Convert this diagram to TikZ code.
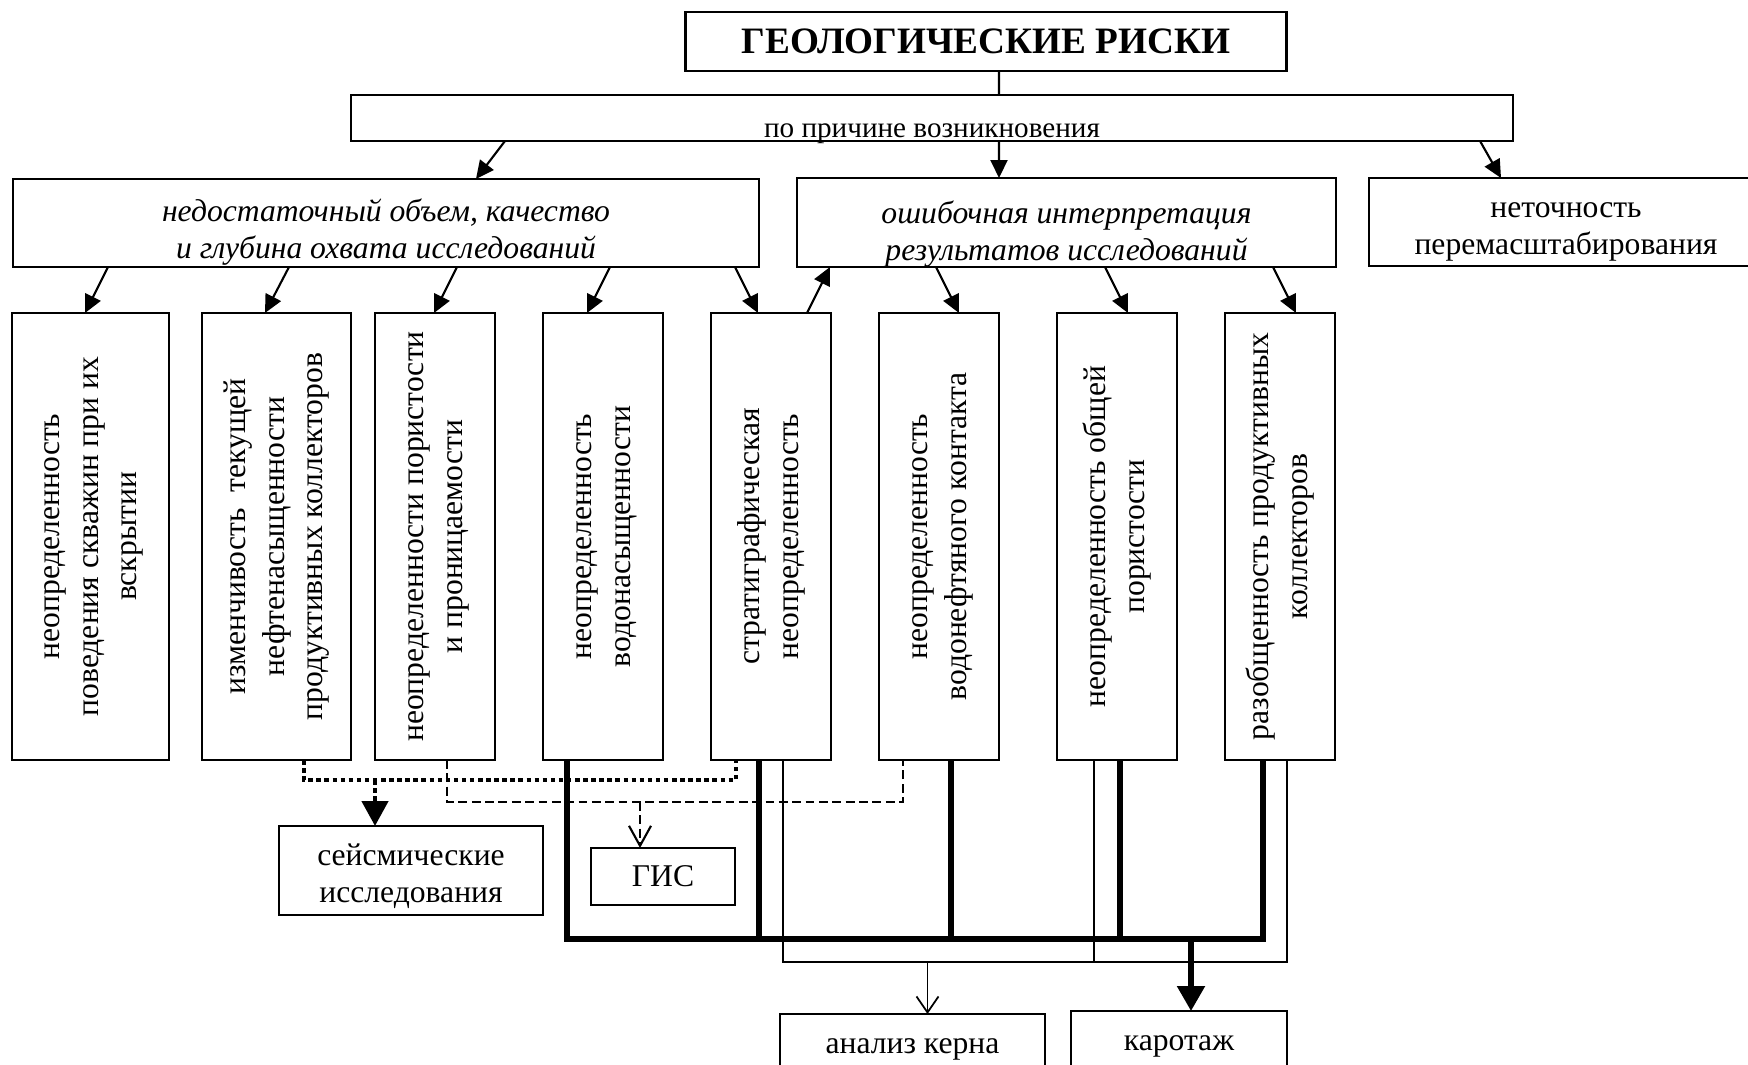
\documentclass[tikz,border=0pt]{standalone}
\usepackage{fontspec}
\setmainfont{Liberation Serif}
\usepackage{graphicx}
\usepackage{tikz}
\usetikzlibrary{arrows.meta, positioning}

\newcommand{\vtxt}[1]{\rotatebox{90}{\begin{tabular}{@{}c@{}}#1\end{tabular}}}

\begin{document}
\begin{tikzpicture}[
    x=0.1mm, y=-0.1mm,
    box/.style={draw, rectangle, line width=0.75pt, inner sep=0pt, outer sep=0pt,
                font=\fontsize{9}{11}\selectfont, align=center},
    tallbox/.style={box, minimum width=12mm, minimum height=44.7mm},
    txt/.style={inner sep=0pt, align=center, font=\fontsize{9}{10.5}\selectfont},
    itxt/.style={txt, font=\fontsize{9}{10.5}\selectfont\itshape},
    arw/.style={-{Triangle[length=1.8mm, width=1.7mm]}, line width=0.6pt},
    dotln/.style={line width=1.3pt, dash pattern=on 1.3pt off 1pt},
    dashln/.style={line width=0.6pt, dash pattern=on 2.5pt off 1.3pt},
    boldln/.style={line width=1.5pt},
    thinln/.style={line width=0.5pt}
  ]
  \useasboundingbox (0,0) rectangle (1748,1064);

  % Верхние блоки
  \node[box, minimum width=60.1mm, minimum height=5.9mm,
        font=\fontsize{10.6}{12}\selectfont\bfseries] (title) at (986,41.5) {ГЕОЛОГИЧЕСКИЕ РИСКИ};
  \node[box, minimum width=116.2mm, minimum height=4.6mm] (cause) at (932,118) {};
  \node[txt, font=\fontsize{8.3}{10}\selectfont, above=0.4mm of cause.south, anchor=base]
       (causetxt) {по причине возникновения};

  \node[box, minimum width=74.6mm, minimum height=8.8mm] (lack) at (386,223) {};
  \node[itxt, below=1.9mm of lack.north] (lacktxt) {недостаточный объем, качество\\и глубина охвата исследований};
  \node[box, minimum width=53.9mm, minimum height=8.9mm] (misint) at (1066.5,222.5) {};
  \node[itxt, below=2.2mm of misint.north] (misinttxt) {ошибочная интерпретация\\результатов исследований};
  \node[box, minimum width=39.4mm, minimum height=8.8mm] (scale) at (1566,222) {};
  \node[txt, below=2.4mm of scale.north] (scaletxt) {неточность\\перемасштабирования};

  % Блоки неопределенностей
  \node[tallbox, minimum width=15.7mm] (b1) at (90.5,536.5)
       {\vtxt{неопределенность\\поведения скважин при их\\вскрытии}};
  \node[tallbox, minimum width=14.9mm, right=3.3mm of b1] (b2)
       {\vtxt{изменчивость\ \ текущей\\нефтенасыщенности\\продуктивных коллекторов}};
  \node[tallbox, right=2.4mm of b2] (b3) {\vtxt{неопределенности пористости\\и проницаемости}};
  \node[tallbox, right=4.8mm of b3] (b4) {\vtxt{неопределенность\\водонасыщенности}};
  \node[tallbox, right=4.8mm of b4] (b5) {\vtxt{стратиграфическая\\неопределенность}};
  \node[tallbox, right=4.8mm of b5] (b6) {\vtxt{неопределенность\\водонефтяного контакта}};
  \node[tallbox, right=5.8mm of b6] (b7) {\vtxt{неопределенность общей\\пористости}};
  \node[tallbox, minimum width=11mm, right=4.8mm of b7] (b8) {\vtxt{разобщенность продуктивных\\коллекторов}};

  % Методы исследований
  \node[box, minimum width=26.4mm, minimum height=8.9mm] (seis) at (411,870.5) {};
  \node[txt, below=1.75mm of seis.north] (seistxt) {сейсмические\\исследования};
  \node[box, minimum width=14.4mm, minimum height=5.7mm] (gis) at (663,876.5) {ГИС};
  \node[box, minimum width=26.5mm, minimum height=8.6mm] (core) at (912.5,1057) {};
  \node[txt, below=3.9mm of core.north, anchor=base] (coretxt) {анализ керна};
  \node[box, minimum width=21.6mm, minimum height=8.9mm] (karot) at (1179,1055.5) {};
  \node[txt, below=3.9mm of karot.north, anchor=base] (karottxt) {каротаж};

  % Связи верхнего уровня
  \draw[line width=0.6pt] ([xshift=1.3mm]title.south) -- ([xshift=6.7mm]cause.north);
  \draw[arw] ([xshift=-42.7mm]cause.south) -- ([xshift=9mm]lack.north);
  \draw[arw] ([xshift=6.7mm]cause.south) -- ([xshift=-6.75mm]misint.north);
  \draw[arw] ([xshift=54.8mm]cause.south) -- ([xshift=-6.5mm]scale.north);

  \draw[arw] ([xshift=-27.8mm]lack.south) -- ([xshift=-0.55mm]b1.north);
  \draw[arw] ([xshift=-9.7mm]lack.south) -- ([xshift=-1.15mm]b2.north);
  \draw[arw] ([xshift=7.1mm]lack.south) -- ([xshift=-0.1mm]b3.north);
  \draw[arw] ([xshift=22.4mm]lack.south) -- ([xshift=-1.6mm]b4.north);
  \draw[arw] ([xshift=34.9mm]lack.south) -- ([xshift=-1.3mm]b5.north);
  \draw[arw] ([xshift=3.6mm]b5.north) -- ([xshift=-23.65mm]misint.south);
  \draw[arw] ([xshift=-13.05mm]misint.south) -- ([xshift=2mm]b6.north);
  \draw[arw] ([xshift=3.85mm]misint.south) -- ([xshift=1.1mm]b7.north);
  \draw[arw] ([xshift=20.65mm]misint.south) -- ([xshift=1.6mm]b8.north);

  % Сейсмика и ГИС
  \draw[dotln] ([xshift=2.75mm]b2.south) -- ++(0,20) -| ([xshift=-3.5mm]b5.south);
  \draw[dotln, -{Triangle[length=2.5mm, width=2.6mm]}]
       ([xshift=-3.6mm, yshift=4.6mm]seis.north) -- ([xshift=-3.6mm]seis.north);
  \draw[dashln] ([xshift=1.2mm]b3.south) -- ++(0,42) -| ([xshift=-3.6mm]b6.south);
  \draw[dashln, -{Straight Barb[length=2mm, width=2.2mm]}]
       ([xshift=-2.3mm, yshift=4.6mm]gis.north) -- ([xshift=-2.3mm]gis.north);

  % Каротаж
  \draw[boldln] ([xshift=-3.6mm]b4.south) |- ([xshift=-1.7mm, yshift=-17.9mm]b8.south)
                -- ([xshift=-1.7mm]b8.south);
  \draw[boldln] ([xshift=-1.2mm]b5.south) -- ++(0,179);
  \draw[boldln] ([xshift=1.2mm]b6.south) -- ++(0,179);
  \draw[boldln] ([xshift=0.3mm]b7.south) -- ++(0,179);
  \draw[boldln, -{Triangle[length=2.5mm, width=2.7mm]}]
       ([xshift=1.2mm, yshift=7.2mm]karot.north) -- ([xshift=1.2mm]karot.north);

  % Анализ керна
  \draw[thinln] ([xshift=1.2mm]b5.south) |- ([xshift=0.7mm, yshift=-20.2mm]b8.south)
                -- ([xshift=0.7mm]b8.south);
  \draw[thinln] ([xshift=-2.3mm]b7.south) -- ++(0,202);
  \draw[thinln, -{Straight Barb[length=1.6mm, width=2.2mm]}]
       ([xshift=1.5mm, yshift=5.2mm]core.north) -- ([xshift=1.5mm]core.north);
\end{tikzpicture}
\end{document}
